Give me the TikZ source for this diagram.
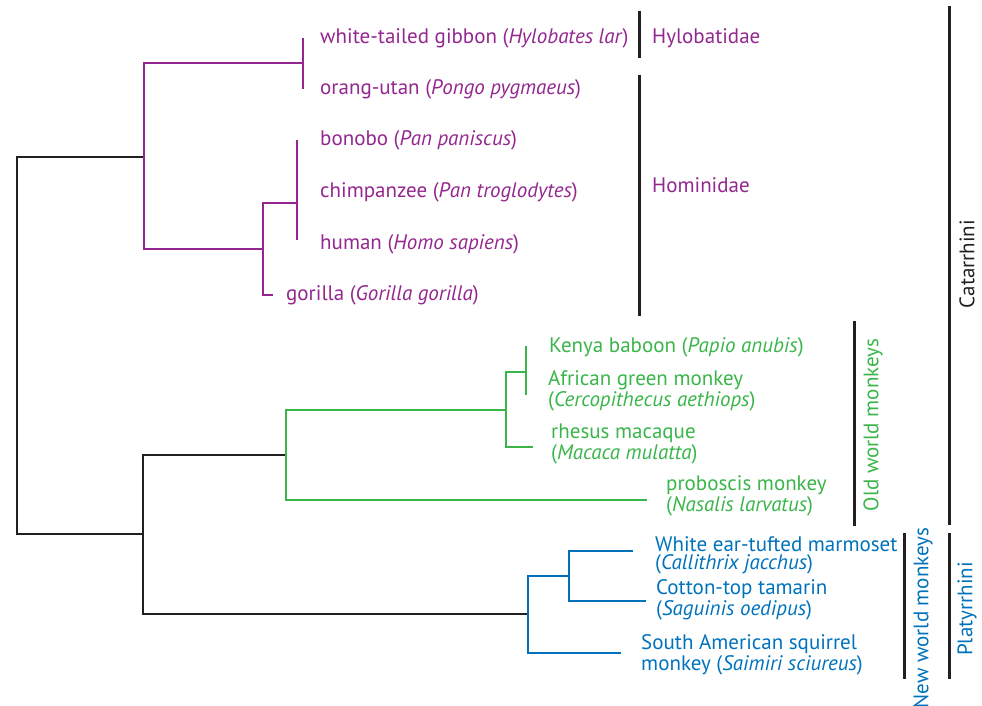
\documentclass[tikz,border=0pt]{standalone}
\usepackage{fontspec}
\setmainfont{PT Sans}

\definecolor{apes}{RGB}{147,39,143}
\definecolor{oldworld}{RGB}{57,181,74}
\definecolor{newworld}{RGB}{0,114,188}
\definecolor{barcol}{RGB}{35,31,32}

\tikzset{
  branch/.style={line width=1.5pt},
  taxon/.style={anchor=base west, inner sep=0pt, align=left,
    font=\fontsize{21}{18}\selectfont},
  cladebar/.style={line width=3pt, draw=barcol},
  cladename/.style={rotate=90, inner sep=0pt,
    font=\fontsize{21}{18}\selectfont},
}

\begin{document}
\begin{tikzpicture}[x=1pt, y=-1pt]
    \useasboundingbox (0,0) rectangle (982,705);

    % inner nodes of the tree
    \coordinate (root)   at (17,345);
    \coordinate (hoid)   at (144,157);
    \coordinate (monkey) at (143,534);
    \coordinate (hylo)   at (303,63);
    \coordinate (homin)  at (263,249);
    \coordinate (pan)    at (297,203);
    \coordinate (owm)    at (286,455);
    \coordinate (papio)  at (506,410);
    \coordinate (cerco)  at (526,372);
    \coordinate (nwm)    at (528,614);
    \coordinate (callit) at (569,576);

    % tips
    \coordinate (tgibbon)  at (303,38);
    \coordinate (torang)   at (303,89);
    \coordinate (tbonobo)  at (297,140);
    \coordinate (thuman)   at (297,240);
    \coordinate (tgorilla) at (273,295);
    \coordinate (tkenya)   at (526,346);
    \coordinate (tagm)     at (526,395);
    \coordinate (trhesus)  at (533,447);
    \coordinate (tprob)    at (647,500);
    \coordinate (tmarmo)   at (633,551);
    \coordinate (ttamar)   at (646,601);
    \coordinate (tsquir)   at (621,653);

    % black stem branches
    \draw[branch, barcol] (root) |- (hoid);
    \draw[branch, barcol] (root) |- (monkey);
    \draw[branch, barcol] (monkey) |- (owm);
    \draw[branch, barcol] (monkey) |- (nwm);

    % apes
    \draw[branch, apes] (hoid) |- (hylo);
    \draw[branch, apes] (hoid) |- (homin);
    \draw[branch, apes] (hylo) |- (tgibbon);
    \draw[branch, apes] (hylo) |- (torang);
    \draw[branch, apes] (homin) |- (pan);
    \draw[branch, apes] (homin) |- (tgorilla);
    \draw[branch, apes] (pan) |- (tbonobo);
    \draw[branch, apes] (pan) |- (thuman);

    % old world monkeys
    \draw[branch, oldworld] (owm) |- (papio);
    \draw[branch, oldworld] (owm) |- (tprob);
    \draw[branch, oldworld] (papio) |- (cerco);
    \draw[branch, oldworld] (papio) |- (trhesus);
    \draw[branch, oldworld] (cerco) |- (tkenya);
    \draw[branch, oldworld] (cerco) |- (tagm);

    % new world monkeys
    \draw[branch, newworld] (nwm) |- (callit);
    \draw[branch, newworld] (nwm) |- (tsquir);
    \draw[branch, newworld] (callit) |- (tmarmo);
    \draw[branch, newworld] (callit) |- (ttamar);

    % species names (two-line names sit on their last line)
    \foreach \id/\y/\txt in {
        gibbon/43/{white-tailed gibbon (\textit{Hylobates lar})},
        orang/94/{orang-utan (\textit{Pongo pygmaeus})},
        bonobo/145/{bonobo (\textit{Pan paniscus})},
        chimp/197/{chimpanzee (\textit{Pan troglodytes})},
        human/249/{human (\textit{Homo sapiens})}}
        \node[taxon, apes] (\id) at (320,\y) {\txt};
    \node[taxon, apes] (gorilla) at (286,300) {gorilla (\textit{Gorilla gorilla})};

    \node[taxon, oldworld] (kenya) at (549,352) {Kenya baboon (\textit{Papio anubis})};
    \node[taxon, oldworld] (agm) at (548,406)
        {African green monkey\\(\textit{Cercopithecus aethiops})};
    \node[taxon, oldworld] (rhesus) at (551,459)
        {rhesus macaque\\(\textit{Macaca mulatta})};
    \node[taxon, oldworld] (prob) at (666,511)
        {proboscis monkey\\(\textit{Nasalis larvatus})};

    \node[taxon, newworld] (marmo) at (655,569)
        {White ear-tufted marmoset\\(\textit{Callithrix jacchus})};
    \node[taxon, newworld] (tamar) at (656,615)
        {Cotton-top tamarin\\(\textit{Saguinis oedipus})};
    \node[taxon, newworld] (squir) at (641,670)
        {South American squirrel\\monkey (\textit{Saimiri sciureus})};

    % clade bars
    \draw[cladebar] (639,11) -- (639,58);
    \draw[cladebar] (639,75) -- (639,316);
    \draw[cladebar] (854,321) -- (854,526);
    \draw[cladebar] (949,6) -- (949,525);
    \draw[cladebar] (904,533) -- (904,679);
    \draw[cladebar] (949,533) -- (949,679);

    % clade names
    \node[taxon, apes] (hylobatidae) at (652,43) {Hylobatidae};
    \node[taxon, apes] (hominidae) at (652,192) {Hominidae};
    \node[cladename, oldworld] (owmname) at (873,425) {Old world monkeys};
    \node[cladename, barcol] (catname) at (967,264) {Catarrhini};
    \node[cladename, newworld] (nwmname) at (923,618) {New world monkeys};
    \node[cladename, newworld] (platname) at (967,609) {Platyrrhini};

\end{tikzpicture}
\end{document}
